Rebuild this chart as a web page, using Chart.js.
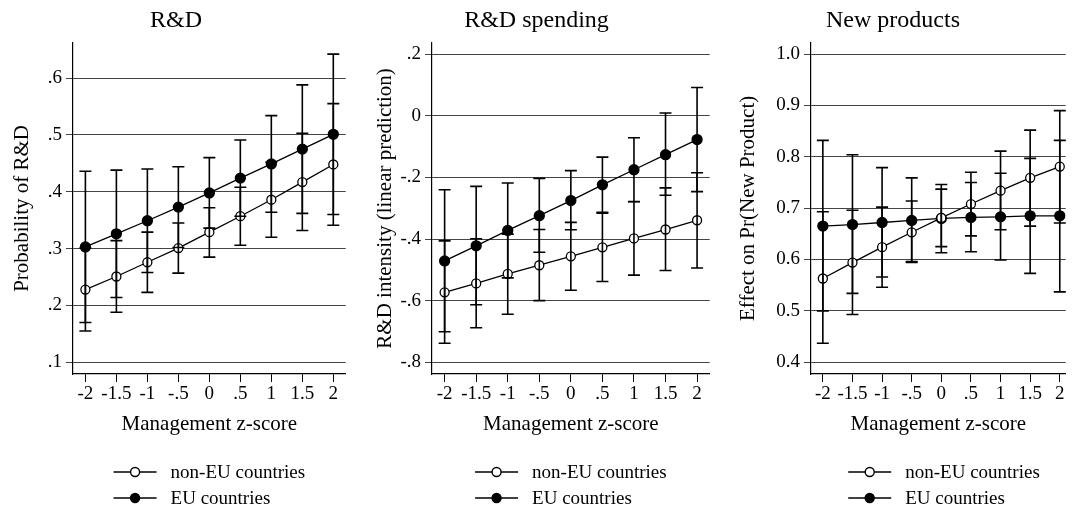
<!DOCTYPE html>
<html>
<head>
<meta charset="utf-8">
<script src="https://cdn.jsdelivr.net/npm/chart.js@4.4.1/dist/chart.umd.min.js"></script>
<style>
  html, body { margin: 0; background: #fff; width: 1072px; height: 509px; overflow: hidden; }
  canvas { position: absolute; top: 0; }
</style>
</head>
<body>
<canvas id="chartRD" width="352" height="509" style="left:0"></canvas>
<canvas id="chartSpend" width="359" height="509" style="left:357px"></canvas>
<canvas id="chartProd" width="358" height="509" style="left:714px"></canvas>
<script>
// ── Datos ──
const zScores = [-2, -1.5, -1, -0.5, 0, 0.5, 1, 1.5, 2]
const zLabels = ['-2', '-1.5', '-1', '-.5', '0', '.5', '1', '1.5', '2']
const seriesNames = ['non-EU countries', 'EU countries']

// R&D
const rdNonEU   = [0.228, 0.251, 0.276, 0.301, 0.329, 0.357, 0.386, 0.417, 0.448]
const rdNonEULo = [0.155, 0.188, 0.223, 0.257, 0.285, 0.306, 0.320, 0.332, 0.341]
const rdNonEUHi = [0.301, 0.314, 0.329, 0.345, 0.372, 0.408, 0.452, 0.503, 0.555]
const rdEU      = [0.303, 0.326, 0.349, 0.373, 0.398, 0.424, 0.449, 0.475, 0.501]
const rdEULo    = [0.170, 0.214, 0.258, 0.302, 0.336, 0.357, 0.364, 0.362, 0.360]
const rdEUHi    = [0.436, 0.438, 0.440, 0.444, 0.460, 0.491, 0.534, 0.588, 0.642]
const rdTicks      = [0.1, 0.2, 0.3, 0.4, 0.5, 0.6]
const rdTickLabels = ['.1', '.2', '.3', '.4', '.5', '.6']

// R&D spending
const spNonEU   = [-0.573, -0.544, -0.513, -0.485, -0.456, -0.427, -0.398, -0.369, -0.339]
const spNonEULo = [-0.738, -0.688, -0.644, -0.600, -0.566, -0.538, -0.517, -0.502, -0.494]
const spNonEUHi = [-0.406, -0.399, -0.384, -0.369, -0.346, -0.316, -0.279, -0.234, -0.185]
const spEU      = [-0.471, -0.422, -0.372, -0.324, -0.275, -0.224, -0.175, -0.126, -0.077]
const spEULo    = [-0.701, -0.613, -0.526, -0.443, -0.370, -0.313, -0.278, -0.258, -0.246]
const spEUHi    = [-0.240, -0.229, -0.218, -0.203, -0.178, -0.134, -0.071, 0.009, 0.092]
const spTicks      = [-0.8, -0.6, -0.4, -0.2, 0, 0.2]
const spTickLabels = ['-.8', '-.6', '-.4', '-.2', '0', '.2']

// New products
const npNonEU   = [0.563, 0.594, 0.624, 0.653, 0.681, 0.708, 0.734, 0.759, 0.781]
const npNonEULo = [0.437, 0.493, 0.546, 0.594, 0.625, 0.646, 0.658, 0.665, 0.671]
const npNonEUHi = [0.693, 0.696, 0.702, 0.714, 0.737, 0.770, 0.811, 0.852, 0.890]
const npEU      = [0.665, 0.668, 0.672, 0.676, 0.680, 0.682, 0.683, 0.685, 0.685]
const npEULo    = [0.500, 0.534, 0.566, 0.596, 0.613, 0.615, 0.599, 0.573, 0.537]
const npEUHi    = [0.832, 0.804, 0.779, 0.759, 0.746, 0.750, 0.768, 0.797, 0.832]
const npTicks      = [0.4, 0.5, 0.6, 0.7, 0.8, 0.9, 1.0]
const npTickLabels = ['0.4', '0.5', '0.6', '0.7', '0.8', '0.9', '1.0']

// ── Estilo ──
const negro = '#000'
const gridColor = '#444'
const fuente = 'Liberation Serif, Times New Roman, serif'
Chart.defaults.font.family = fuente
Chart.defaults.color = negro

// barras de error (rcap)
const errorBars = {
  id: 'errorBars',
  afterDatasetsDraw(chart) {
    const { ctx, scales: { x, y } } = chart
    ctx.save()
    ctx.strokeStyle = negro
    ctx.lineWidth = 1.6
    chart.data.datasets.forEach(ds => {
      ds.data.forEach((p, i) => {
        const px = x.getPixelForValue(p.x)
        const lo = y.getPixelForValue(ds.lo[i])
        const hi = y.getPixelForValue(ds.hi[i])
        ctx.beginPath()
        ctx.moveTo(px, lo); ctx.lineTo(px, hi)
        ctx.moveTo(px - 6, lo); ctx.lineTo(px + 6, lo)
        ctx.moveTo(px - 6, hi); ctx.lineTo(px + 6, hi)
        ctx.stroke()
      })
    })
    ctx.restore()
  }
}

// leyenda vertical centrada bajo el área del gráfico
const stataLegend = {
  id: 'stataLegend',
  afterDraw(chart) {
    const { ctx, chartArea } = chart
    const lineLen = 43, gap = 14, rows = [472, 498]
    const centro = chart.options.legendCenter ?? (chartArea.left + chartArea.right) / 2
    ctx.save()
    ctx.font = '19px ' + fuente
    const w = Math.max(...chart.data.datasets.map(d => ctx.measureText(d.label).width))
    const left = centro - (lineLen + gap + w) / 2
    chart.data.datasets.forEach((ds, i) => {
      const yy = rows[i]
      ctx.strokeStyle = negro
      ctx.lineWidth = 1.4
      ctx.beginPath(); ctx.moveTo(left, yy); ctx.lineTo(left + lineLen, yy); ctx.stroke()
      ctx.beginPath(); ctx.arc(left + lineLen / 2, yy, 4.5, 0, Math.PI * 2)
      ctx.fillStyle = ds.pointBackgroundColor
      ctx.fill(); ctx.stroke()
      ctx.fillStyle = negro
      ctx.textBaseline = 'middle'
      ctx.textAlign = 'left'
      ctx.fillText(ds.label, left + lineLen + gap, yy + 1)
    })
    ctx.restore()
  }
}

function serie(label, vals, lo, hi, relleno, r) {
  return {
    label,
    data: zScores.map((z, i) => ({ x: z, y: vals[i] })),
    lo, hi,
    borderColor: negro,
    borderWidth: 1.3,
    pointRadius: r,
    pointBorderWidth: 1.3,
    pointBorderColor: negro,
    pointBackgroundColor: relleno,
    tension: 0
  }
}

function panel(id, p) {
  return new Chart(document.getElementById(id), {
    type: 'line',
    data: {
      datasets: [
        serie(seriesNames[0], p.nonEU, p.nonEULo, p.nonEUHi, '#fff', 4.5),
        serie(seriesNames[1], p.eu, p.euLo, p.euHi, negro, 5)
      ]
    },
    options: {
      responsive: false,
      animation: false,
      devicePixelRatio: 1,
      legendCenter: p.legendCenter,
      layout: { padding: 0 },
      scales: {
        x: {
          type: 'linear',
          min: -2.2,
          max: p.xMax,
          afterBuildTicks: s => { s.ticks = zScores.map(v => ({ value: v })) },
          afterFit: s => { s.height = 135 },
          ticks: {
            font: { size: 19 },
            color: negro,
            padding: 1,
            maxRotation: 0,
            autoSkip: false,
            callback: v => zLabels[zScores.indexOf(v)]
          },
          grid: { drawOnChartArea: false, drawTicks: true, tickLength: 8, color: negro, lineWidth: 1 },
          border: { display: true, color: negro, width: 1.2 },
          title: { display: true, text: 'Management z-score', font: { size: 21 }, color: negro, padding: { top: 0, bottom: 72 } }
        },
        y: {
          min: p.yMin,
          max: p.yMax,
          afterBuildTicks: s => { s.ticks = p.ticks.map(v => ({ value: v })) },
          afterFit: s => { s.width = p.axisW },
          ticks: {
            font: { size: 19 },
            color: negro,
            padding: 4,
            callback: v => p.tickLabels[p.ticks.findIndex(t => Math.abs(t - v) < 1e-9)]
          },
          grid: { color: gridColor, lineWidth: 1, drawTicks: true, tickLength: 7 },
          border: { display: true, color: negro, width: 1.2 },
          title: { display: true, text: p.yTitle, font: { size: 21 }, color: negro, padding: { top: p.yTitlePad, bottom: 0 } }
        }
      },
      plugins: {
        legend: { display: false },
        tooltip: { enabled: false },
        title: {
          display: true,
          text: p.title,
          color: negro,
          font: { size: 24, weight: 'normal' },
          padding: { top: 6, bottom: 8 }
        }
      }
    },
    plugins: [errorBars, stataLegend]
  })
}

// ── R&D ──
panel('chartRD', {
  title: 'R&D', yTitle: 'Probability of R&D',
  nonEU: rdNonEU, nonEULo: rdNonEULo, nonEUHi: rdNonEUHi,
  eu: rdEU, euLo: rdEULo, euHi: rdEUHi,
  yMin: 0.0795, yMax: 0.662, ticks: rdTicks, tickLabels: rdTickLabels,
  axisW: 73, yTitlePad: 10, xMax: 2.2
})

// ── R&D spending ──
panel('chartSpend', {
  title: 'R&D spending', yTitle: 'R&D intensity (linear prediction)',
  nonEU: spNonEU, nonEULo: spNonEULo, nonEUHi: spNonEUHi,
  eu: spEU, euLo: spEULo, euHi: spEUHi,
  yMin: -0.838, yMax: 0.237, ticks: spTicks, tickLabels: spTickLabels,
  axisW: 75, yTitlePad: 16, xMax: 2.2
})

// ── New products ── (el panel queda cortado por la derecha)
panel('chartProd', {
  title: 'New products', yTitle: 'Effect on Pr(New Product)',
  nonEU: npNonEU, nonEULo: npNonEULo, nonEUHi: npNonEUHi,
  eu: npEU, euLo: npEULo, euHi: npEUHi,
  yMin: 0.377, yMax: 1.022, ticks: npTicks, tickLabels: npTickLabels,
  axisW: 97, yTitlePad: 22, xMax: 2.1, legendCenter: 230
})
</script>
</body>
</html>
